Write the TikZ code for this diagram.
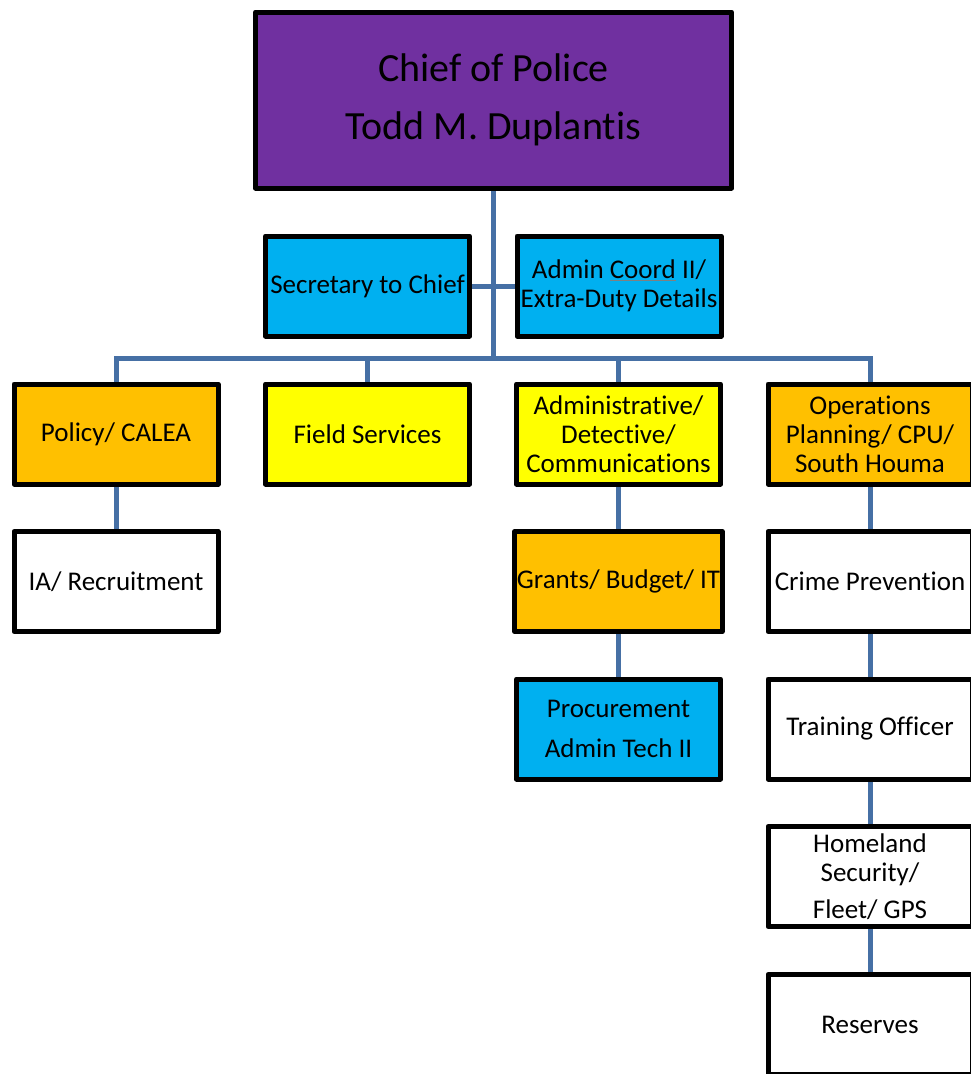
\documentclass[tikz,border=0pt]{standalone}
\usepackage{fontspec}
\setmainfont{Carlito}[Ligatures=NoCommon]
\usetikzlibrary{backgrounds}

\definecolor{chiefpurple}{HTML}{7030A0}
\definecolor{unitblue}{HTML}{00B0F0}
\definecolor{unitorange}{HTML}{FFC000}
\definecolor{unityellow}{HTML}{FFFF00}
\definecolor{linkblue}{RGB}{70,112,165}

\tikzset{
  unit/.style={draw=black, line width=5pt, line join=round,
    minimum width=204pt, minimum height=100pt, inner sep=2pt,
    align=center, font=\fontsize{27}{29}\selectfont},
  link/.style={linkblue, line width=5pt},
}

\begin{document}
\begin{tikzpicture}[x=1pt,y=-1pt]
  \useasboundingbox (0,0) rectangle (970,1074);

  % chief and staff
  \node[unit, fill=chiefpurple, minimum width=476pt, minimum height=176pt,
    font=\fontsize{40}{58}\selectfont] (chief) at (493.5,100)
    {Chief of Police\\Todd M. Duplantis};
  \node[unit, fill=unitblue] (sec) at (367.5,286) {Secretary to Chief};
  \node[unit, fill=unitblue] (coord) at (619,286)
    {Admin \textcolor{gray}{\underline{\textcolor{black}{Coord}}} II/\\Extra-Duty Details};

  % divisions
  \node[unit, fill=unitorange] (policy) at (116,434) {Policy/ CALEA};
  \node[unit, fill=unityellow] (field) at (367.5,434) {Field Services};
  \node[unit, fill=unityellow] (admin) at (618.5,434)
    {Administrative/\\Detective/\\Communications};
  \node[unit, fill=unitorange] (ops) at (870,434)
    {Operations\\Planning/ CPU/\\South Houma};

  % sections
  \node[unit, fill=white] (ia) at (116,581.5) {IA/ Recruitment};
  \node[unit, fill=unitorange] (grants) at (618.5,581.5) {Grants/ Budget/ IT};
  \node[unit, fill=unitblue] (proc) at (618.5,729)
    {Procurement\\[11pt]Admin Tech II};
  \node[unit, fill=white] (crime) at (870,581.5) {Crime Prevention};
  \node[unit, fill=white] (training) at (870,729) {Training Officer};
  \node[unit, fill=white] (homeland) at (870,876.5)
    {Homeland\\Security/\\[8pt]Fleet/ GPS};
  \node[unit, fill=white] (reserves) at (870,1024.5) {Reserves};

  \begin{scope}[on background layer]
    \fill[white] (0,0) rectangle (970,1074);
    \coordinate (bar) at (493.5,358);
    \draw[link] (chief) -- (bar);
    \draw[link] (sec) -- (coord);
    \draw[link] (policy.north) |- (bar) -| (ops.north);
    \foreach \u in {field,admin}
      \draw[link] (\u.north) -- (\u.north |- bar);
    \draw[link] (policy) -- (ia);
    \draw[link] (admin) -- (grants) -- (proc);
    \draw[link] (ops) -- (crime) -- (training) -- (homeland) -- (reserves);
  \end{scope}
\end{tikzpicture}
\end{document}
